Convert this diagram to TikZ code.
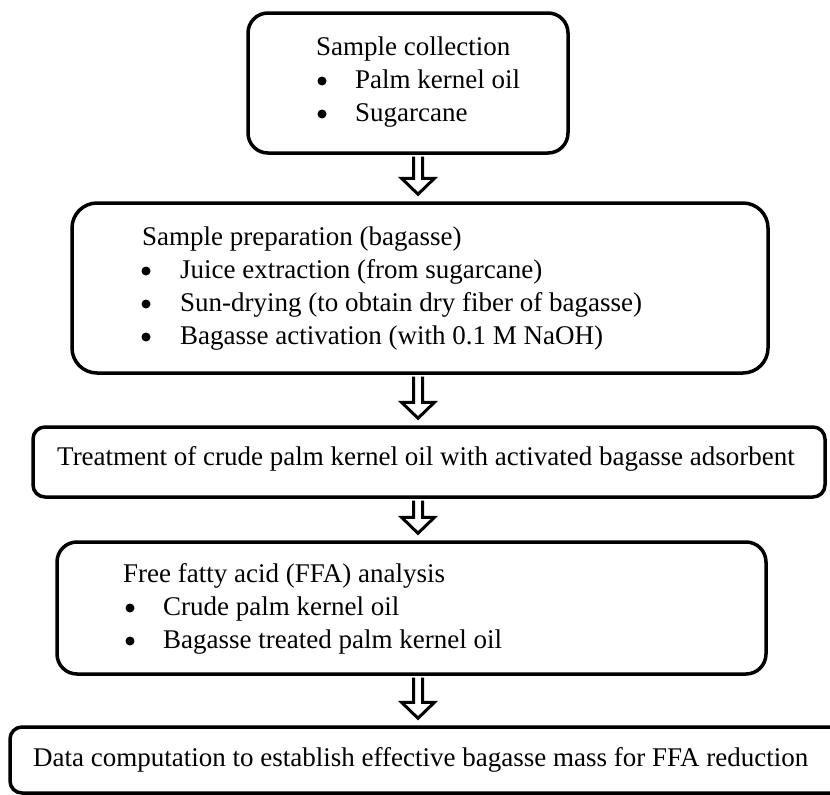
\documentclass[tikz,border=0pt]{standalone}
\usepackage{fontspec}
\setmainfont{Liberation Serif}
\usetikzlibrary{calc}
\tikzset{
  box/.style={draw=black, line width=3.5pt, fill=white, inner sep=0pt},
  txt/.style={anchor=base west, inner sep=0pt, font=\fontsize{27}{33}\selectfont},
  dot/.style={circle, fill=black, inner sep=0pt, minimum size=9pt},
  hollow/.style={draw=black, fill=white, line width=3pt, line join=miter},
}
\newcommand\hollowarrow[2]{%
  \draw[hollow] let \p1=(#1), \p2=(#2) in
    (\x1-4.5pt,\y1-1.75pt) -- (\x1-4.5pt,\y2+23pt) -- (\x1-16.5pt,\y2+23pt)
    -- (\x1,\y2+7pt) -- (\x1+16.5pt,\y2+23pt) -- (\x1+4.5pt,\y2+23pt)
    -- (\x1+4.5pt,\y1-1.75pt);}
\begin{document}
\begin{tikzpicture}[x=1pt,y=-1pt]
\useasboundingbox (0,0) rectangle (830,795);
\clip (0,0) rectangle (830,795);
\fill[white] (0,0) rectangle (830,795);
\coordinate (ax) at (418,0);
% boxes
\node[box, minimum width=320pt, minimum height=140pt, rounded corners=20pt] (b1) at (408,83) {};
\node[box, minimum width=696pt, minimum height=170pt, rounded corners=25pt] (b2) at (420,288) {};
\node[box, minimum width=792pt, minimum height=70pt, rounded corners=12pt] (b3) at (429,462) {};
\node[box, minimum width=709pt, minimum height=132pt, rounded corners=20pt] (b4) at (411.5,608) {};
\node[box, minimum width=850pt, minimum height=66pt, rounded corners=12pt] (b5) at (435,760) {};
% arrows
\hollowarrow{b1.south -| ax}{b2.north -| ax}
\hollowarrow{b2.south -| ax}{b3.north -| ax}
\hollowarrow{b3.south -| ax}{b4.north -| ax}
\hollowarrow{b4.south -| ax}{b5.north -| ax}
% box 1 text
\node[txt] (t1) at (316,55) {Sample collection};
\node[dot] (d11) at (322,81) {};
\node[txt] (t11) at (355,88) {Palm kernel oil};
\node[dot] (d12) at (322,114) {};
\node[txt] (t12) at (355,121) {Sugarcane};
% box 2 text
\node[txt] (t2) at (142,245) {Sample preparation (bagasse)};
\node[dot] (d21) at (146,271) {};
\node[txt] (t21) at (180,278) {Juice extraction (from sugarcane)};
\node[dot] (d22) at (146,304) {};
\node[txt] (t22) at (180,311) {Sun-drying (to obtain dry fiber of bagasse)};
\node[dot] (d23) at (146,337) {};
\node[txt] (t23) at (180,344) {Bagasse activation (with 0.1 M NaOH)};
% box 3 text
\node[txt] (t3) at (57,465) {Treatment of crude palm kernel oil with activated bagasse adsorbent};
% box 4 text
\node[txt] (t4) at (123,582) {Free fatty acid (FFA) analysis};
\node[dot] (d41) at (130,608) {};
\node[txt] (t41) at (163,615) {Crude palm kernel oil};
\node[dot] (d42) at (130,641) {};
\node[txt] (t42) at (163,648) {Bagasse treated palm kernel oil};
% box 5 text
\node[txt] (t5) at (33,766) {Data computation to establish effective bagasse mass for FFA reduction};
\end{tikzpicture}
\end{document}
